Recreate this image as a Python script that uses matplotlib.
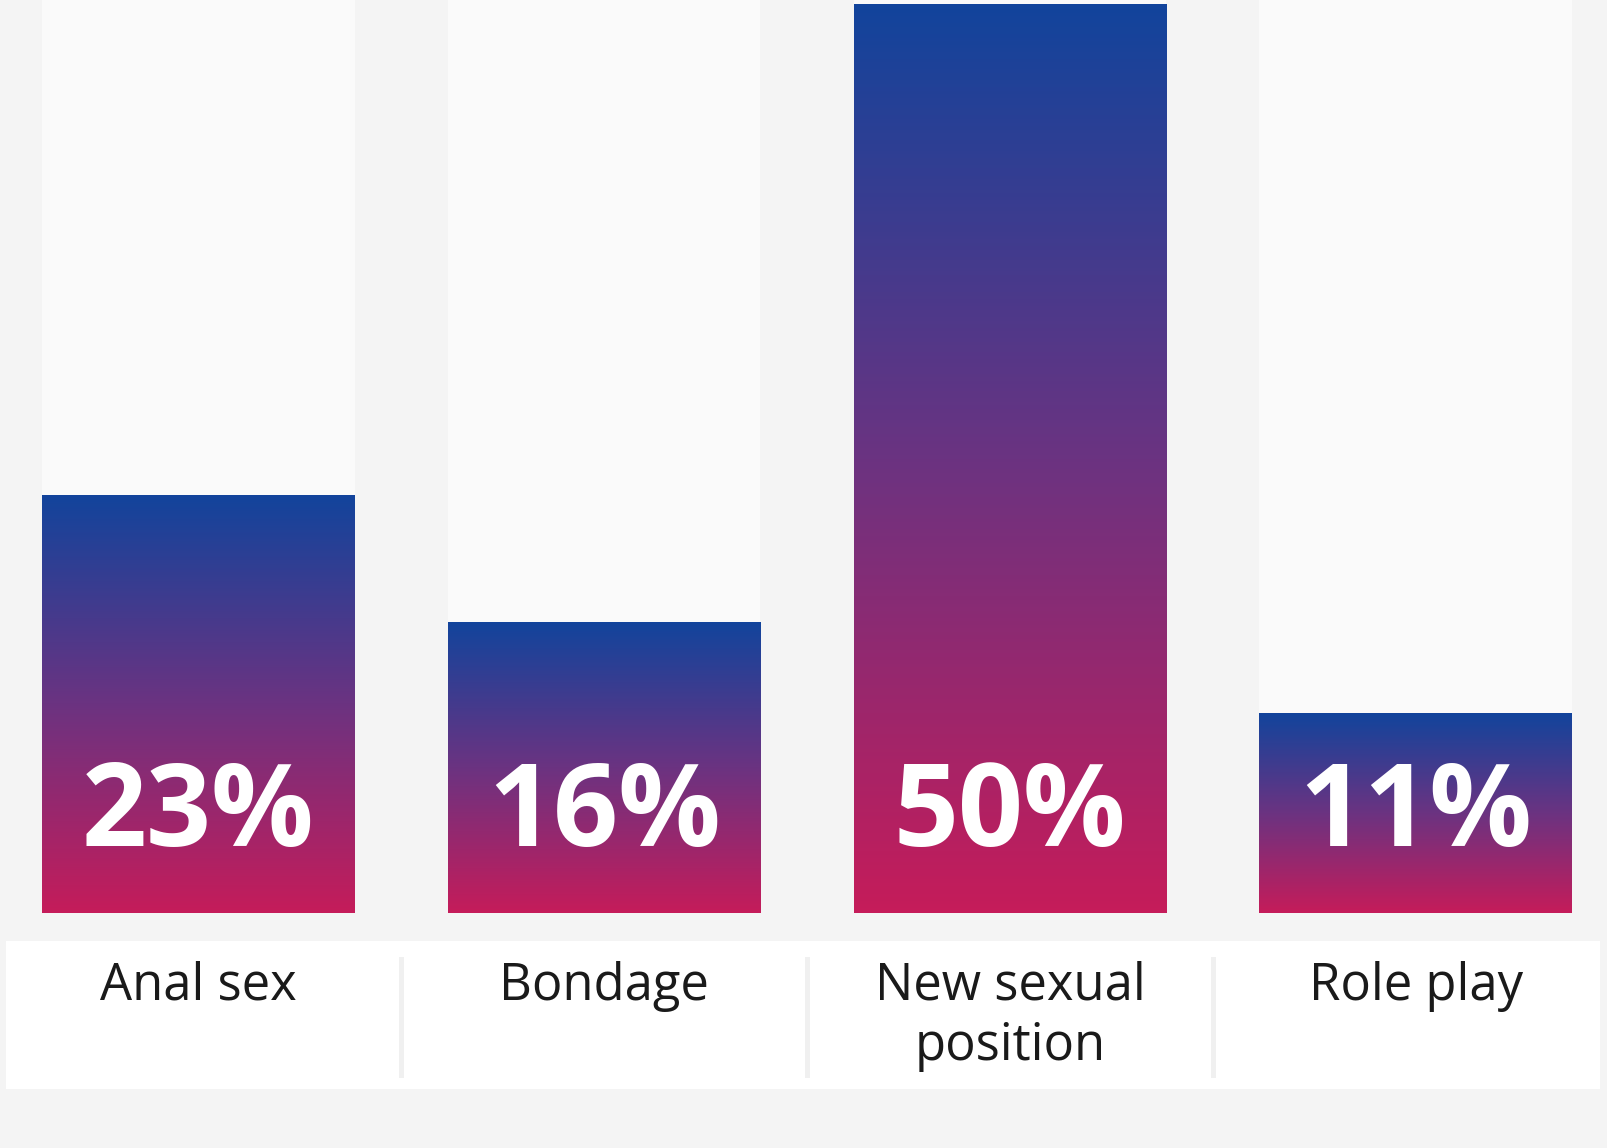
import numpy as np
import matplotlib
matplotlib.use("Agg")
import matplotlib.pyplot as plt
from matplotlib import transforms
from matplotlib.colors import LinearSegmentedColormap
from matplotlib.patches import Rectangle
from matplotlib.lines import Line2D

categories = ["Anal sex", "Bondage", "New sexual\nposition", "Role play"]
values = [23, 16, 50, 11]
value_labels = ["23%", "16%", "50%", "11%"]

W, H = 1608, 1148
fig = plt.figure(figsize=(W / 100, H / 100), dpi=100, facecolor="#f4f4f4")

# plot area: bars stand on y=913px from top
ax = fig.add_axes([0, 235 / H, 1, 1 - 235 / H])
ax.set_facecolor("none")
ax.axis("off")

x = np.arange(len(categories))
bar_w = 0.77
ymax = max(values) * 1.0045

# pale full-height columns behind each bar
ax.bar(x, [ymax] * len(x), width=bar_w, color="#fafafa", zorder=1)

bars = ax.bar(x, values, width=bar_w, color="none", zorder=2)
cmap = LinearSegmentedColormap.from_list("bar", ["#c51c5a", "#6b3381", "#12449c"])
grad = np.linspace(0, 1, 256).reshape(-1, 1)
for b in bars:
    x0 = b.get_x()
    im = ax.imshow(grad, cmap=cmap, aspect="auto", origin="lower",
                   extent=(x0, x0 + b.get_width(), 0, b.get_height()),
                   interpolation="bilinear", zorder=2)
    im.set_clip_path(b)

ax.set_xlim(-0.489, 3.474)
ax.set_ylim(0, ymax)

mixed = transforms.blended_transform_factory(ax.transData, fig.transFigure)

# percent labels inside bars
for xi, lab in zip(x, value_labels):
    ax.text(xi, 1 - 846 / H, lab, transform=mixed, ha="center", va="baseline",
            color="white", fontsize=82, fontweight="bold", family="Open Sans", zorder=3)

# white label panel
fig.patches.append(Rectangle((6 / W, 1 - 1089 / H), (1600 - 6) / W, (1089 - 941) / H,
                             transform=fig.transFigure, facecolor="white",
                             edgecolor="none", zorder=-2))

# separators between category cells
for xm in (x[:-1] + x[1:]) / 2:
    fig.lines.append(Line2D([xm, xm], [1 - 959 / H, 1 - 1075 / H], transform=mixed,
                            color="#f0f0f0", linewidth=3.6, zorder=-1))

# category names, one text per line (60px line pitch)
for xi, cat in zip(x, categories):
    for i, line in enumerate(cat.split("\n")):
        ax.text(xi, 1 - (1000 + 60 * i) / H, line, transform=mixed, ha="center",
                va="baseline", color="#1a1a1a", fontsize=36.5, family="Open Sans",
                zorder=3, clip_on=False)

fig.savefig("out.png", dpi=100, facecolor=fig.get_facecolor())
